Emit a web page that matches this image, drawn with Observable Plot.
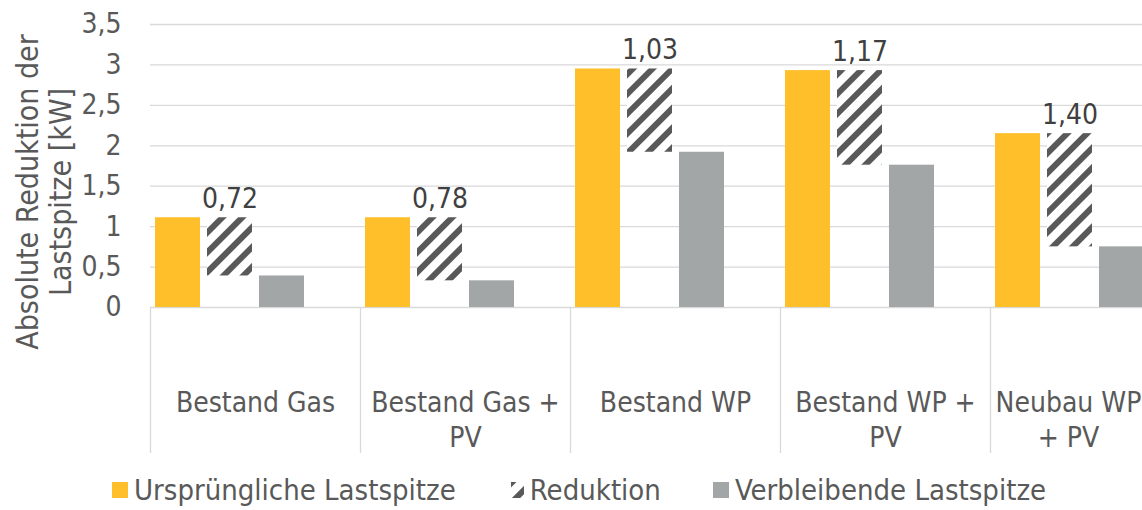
<!DOCTYPE html>
<html><head><meta charset="utf-8">
<script src="https://cdn.jsdelivr.net/npm/d3@7"></script>
<script src="https://cdn.jsdelivr.net/npm/@observablehq/plot@0.6"></script>
<style>
html,body{margin:0;padding:0;background:#fff;}
body{width:1142px;height:510px;overflow:hidden;font-family:"DejaVu Sans Condensed","DejaVu Sans",sans-serif;}
#chart svg{display:block;}
#legend{height:40px;display:flex;align-items:center;justify-content:flex-start;padding-left:112px;gap:52px;font-size:29px;color:#595959;}
.item{display:flex;align-items:center;gap:6px;white-space:nowrap;}
.sw{width:16px;height:16px;display:block;}
</style></head><body>
<div id="chart"></div>
<div id="legend"></div>
<script>
const categories = ["Bestand Gas","Bestand Gas + PV","Bestand WP","Bestand WP + PV","Neubau WP + PV"];
const categoryLabels = ["Bestand Gas","Bestand Gas +\nPV","Bestand WP","Bestand WP +\nPV","Neubau WP\n+ PV"];
const originalPeak = [1.11,1.11,2.95,2.93,2.15];
const reduction = [0.72,0.78,1.03,1.17,1.40];
const remainingPeak = [0.39,0.33,1.92,1.76,0.75];
const seriesNames = ["Ursprüngliche Lastspitze","Reduktion","Verbleibende Lastspitze"];
const seriesColors = ["#FEBF2A","url(#hatch)","#A3A6A6"];
const yTicks = [0,0.5,1,1.5,2,2.5,3,3.5];
const yTitle = "Absolute Reduktion der\nLastspitze [kW]";

const fmt = d => String(d).replace(".", ",");
const rows = [];
categories.forEach((c,i)=>{
  rows.push({cat:c, s:seriesNames[0], y1:0, y2:originalPeak[i]});
  rows.push({cat:c, s:seriesNames[1], y1:originalPeak[i]-reduction[i], y2:originalPeak[i]});
  rows.push({cat:c, s:seriesNames[2], y1:0, y2:remainingPeak[i]});
});
const catLabel = d => categoryLabels[categories.indexOf(d)];
const hatchDef = id => `<pattern id="${id}" patternUnits="userSpaceOnUse" width="14" height="14" patternTransform="rotate(45)"><rect width="14" height="14" fill="#fff"/><rect width="6" height="14" fill="#595959"/></pattern>`;
const FONT = '"DejaVu Sans Condensed","DejaVu Sans",sans-serif';
const labelOpts = {fx:d=>d, text:catLabel, frameAnchor:"bottom", lineAnchor:"top", textAnchor:"middle", dy:80, lineHeight:1.25, fontSize:28, fill:"#595959"};
const plot = Plot.plot({
  width:1142, height:470, marginTop:24, marginLeft:150, marginRight:-58, marginBottom:163,
  style:{fontFamily:FONT, fontSize:"28px", color:"#595959", background:"#fff"},
  fx:{domain:categories, padding:0, label:null},
  x:{domain:[...seriesNames,"_"], paddingInner:0.143, paddingOuter:0.0715, axis:null},
  y:{domain:[0,3.5], axis:null},
  marks:[
    Plot.gridY(yTicks,{stroke:"#D9D9D9", strokeOpacity:1, strokeWidth:1.3}),
    ...seriesNames.map((s,k)=>Plot.barY(rows.filter(r=>r.s===s),{fx:"cat", x:"s", y1:"y1", y2:"y2", fill:seriesColors[k]})),
    Plot.text(categories,{fx:d=>d, x:()=>seriesNames[1], y:(d,i)=>originalPeak[i], text:(d,i)=>reduction[i].toFixed(2).replace(".",","), lineAnchor:"bottom", dy:-10, fill:"#404040", fontSize:28}),
    Plot.axisY(yTicks,{anchor:"left", tickSize:0, tickPadding:29, tickFormat:fmt, label:null, fontSize:28}),
    Plot.text([yTitle],{fx:()=>categories[0], frameAnchor:"left", textAnchor:"middle", rotate:-90, lineAnchor:"top", lineHeight:1.1, dx:-136, dy:26, fontSize:30, fill:"#595959"}),
    Plot.axisFx({anchor:"bottom", tickSize:146, tickFormat:()=>"", dx:-105, stroke:"#D9D9D9", strokeWidth:1.3, label:null}),
    Plot.text(categories.slice(0,4), labelOpts),
    Plot.text(categories.slice(4), {...labelOpts, dx:-27})
  ]
});
d3.select(plot).insert("defs",":first-child").html(hatchDef("hatch"));
document.getElementById("chart").appendChild(plot);

const legend = d3.select("#legend");
seriesNames.forEach((s,k)=>{
  const it = legend.append("div").attr("class","item");
  if (k===1) {
    it.append(()=>{
      const n = d3.create("svg").attr("class","sw").attr("width",16).attr("height",16);
      n.append("defs").html(hatchDef("hatchL"));
      n.append("rect").attr("x",3).attr("width",13).attr("height",16).attr("fill","url(#hatchL)");
      return n.node();
    });
  } else {
    it.append("div").attr("class","sw").style("background",seriesColors[k]);
  }
  it.append("span").text(s);
});
</script>
</body></html>
